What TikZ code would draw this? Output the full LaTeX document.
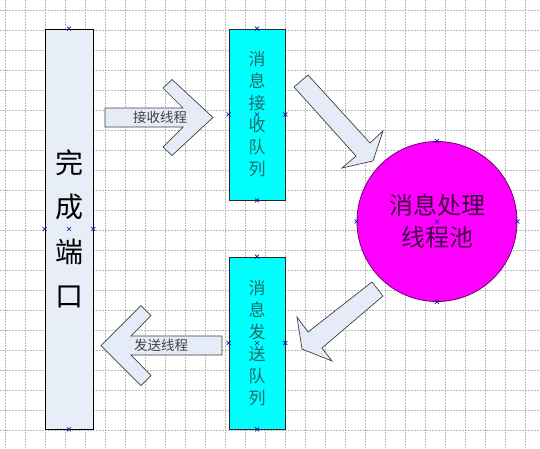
\documentclass[tikz,border=0pt]{standalone}
\usepackage{fontspec}
\newfontfamily\cjk{Noto Sans CJK SC}
\definecolor{gridcol}  {RGB}{185,185,185}
\definecolor{portfill} {RGB}{232,238,247}
\definecolor{queuefill}{RGB}{  0,255,255}
\definecolor{queuetext}{RGB}{ 30,105,105}
\definecolor{poolfill} {RGB}{255,  0,255}
\definecolor{pooledge} {RGB}{110,  0,110}
\definecolor{pooltext} {RGB}{ 60,  0, 60}
\definecolor{arrowfill}{RGB}{230,236,247}
\definecolor{labeltext}{RGB}{ 64, 64, 64}
\definecolor{markcol}  {RGB}{ 20, 20,160}

\begin{document}
\begin{tikzpicture}[
  % one unit = one pixel of the 540x448 sheet, y grows downwards
  x=1pt,y=-1pt,
  line join=miter,
  portbox/.style={draw=black,fill=portfill,line width=0.8pt,
    minimum width=48pt,minimum height=400pt,align=center,
    font=\cjk\fontsize{28}{44.5}\selectfont},
  queuebox/.style={draw=black!85,fill=queuefill,line width=0.8pt,
    minimum width=56pt,align=center,text=queuetext,
    font=\cjk\fontsize{17}{22}\selectfont},
  poolcircle/.style={circle,draw=pooledge,fill=poolfill,line width=0.8pt,
    minimum size=160pt,align=center,text=pooltext,
    font=\cjk\fontsize{24}{32}\selectfont},
  blockarrow/.style={draw=black!75,fill=arrowfill,line width=0.7pt},
  arrowlabel/.style={text=labeltext,inner sep=1pt,
    font=\cjk\fontsize{13.5}{16}\selectfont}
]

% ---- sheet and grid ------------------------------------------------------
\fill[white] (0,0) rectangle (540,448);
\useasboundingbox (0,0) rectangle (540,448);
\foreach \gx in {5,25,...,545}
  \draw[gridcol,line width=0.5pt,dash pattern=on 2pt off 1pt] (\gx,0) -- (\gx,448);
\foreach \gy in {10,30,...,450}
  \draw[gridcol,line width=0.5pt,dash pattern=on 2pt off 1pt] (0,\gy) -- (540,\gy);

% ---- block arrows --------------------------------------------------------
\draw[blockarrow] (105,108) -- (183,108) -- (163,88) -- (172,79.5) -- (213,117.5)
  -- (172,155.5) -- (163,147) -- (183,127) -- (105,127) -- cycle;
\draw[blockarrow] (222,336) -- (131,336) -- (151,315.5) -- (141,305.5) -- (101,345.5)
  -- (141,385.5) -- (151,375.5) -- (131,355) -- (222,355) -- cycle;
\draw[blockarrow] (294,87) -- (308,75) -- (370,143) -- (383,131) -- (373,161)
  -- (342,168) -- (356,156) -- cycle;
\draw[blockarrow] (372,282) -- (383,296) -- (322,348) -- (332,361) -- (302,349)
  -- (297,317) -- (308,332) -- cycle;

% ---- boxes ---------------------------------------------------------------
\node[portbox] (port) at (69,229) {完\\成\\端\\口};
\node[queuebox,minimum height=171pt] (recvq) at (257,114.5) {消\\息\\接\\收\\队\\列};
\node[queuebox,minimum height=172pt] (sendq) at (257,343) {消\\息\\发\\送\\队\\列};
\node[poolcircle] (pool) at (437,221.5) {消息处理\\线程池};

% ---- arrow labels --------------------------------------------------------
\node[arrowlabel] (recvlabel) at (160,117.5) {接收线程};
\node[arrowlabel] (sendlabel) at (161,345.5) {发送线程};

% ---- connection point marks ----------------------------------------------
\foreach \shp in {port,recvq,sendq,pool}
  \foreach \anc in {north,south,east,west,center}
    \draw[markcol,line width=0.6pt] (\shp.\anc) ++(-2,-2) -- ++(4,4) ++(-4,0) -- ++(4,-4);

\end{tikzpicture}
\end{document}
